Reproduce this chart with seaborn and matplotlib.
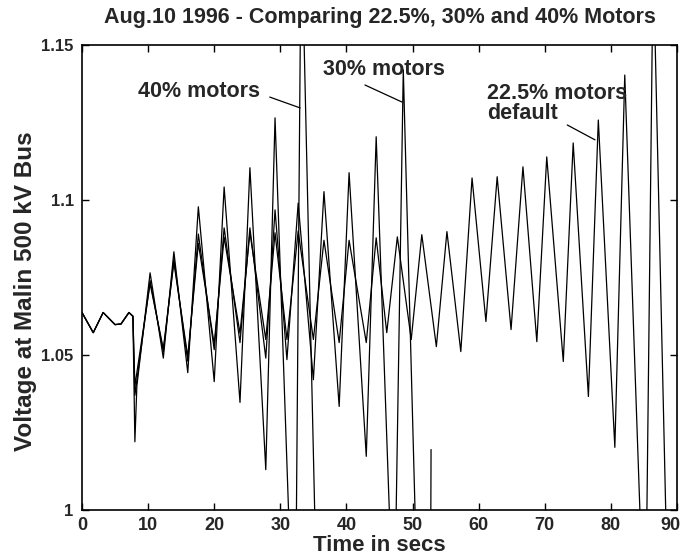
import numpy as np
import pandas as pd
import seaborn as sns
import matplotlib.pyplot as plt
import matplotlib.transforms as mtransforms
from matplotlib.ticker import FixedLocator, FormatStrFormatter

"""
Aug.10 1996 - voltage at Malin 500 kV bus for three motor load shares
"""

# pre-fault swing, same for every case
t_pre = [0.0, 1.7, 3.2, 5.0, 5.9, 7.1, 7.7]
v_pre = [1.0637, 1.0572, 1.0637, 1.0598, 1.0600, 1.0637, 1.0625]

# 22.5% motors (default)
t_225 = [8.0, 10.3, 12.3, 13.9, 16.0, 17.6, 20.0, 21.5, 23.9, 25.4, 27.8, 29.2,
         31.0, 32.7, 35.0, 36.6, 38.9, 40.4, 43.0, 44.5, 46.1, 47.7, 49.8, 51.4,
         53.6, 55.2, 57.3, 59.0, 61.1, 62.8, 64.9, 66.7, 68.8, 70.3, 72.8, 74.3,
         76.6, 78.1, 80.6, 82.1, 84.55, 85.4, 86.3, 86.6, 88.4]
v_225 = [1.040, 1.073, 1.052, 1.0798, 1.0495, 1.086, 1.0535, 1.088, 1.057, 1.0895,
         1.055, 1.0894, 1.055, 1.090, 1.055, 1.087, 1.054, 1.087, 1.054, 1.0878,
         1.0572, 1.0881, 1.055, 1.0888, 1.0527, 1.0898, 1.0511, 1.1071, 1.0608,
         1.1075, 1.0582, 1.1107, 1.0543, 1.1139, 1.0479, 1.1184, 1.0366, 1.1258,
         1.0202, 1.1403, 0.99, 0.99, 1.16, 1.16, 0.99]

# 30% motors
t_30 = [8.0, 10.3, 12.3, 13.9, 16.0, 17.6, 20.0, 21.5, 23.9, 25.4, 27.8, 29.2,
        31.0, 32.7, 35.0, 36.6, 38.9, 40.4, 43.0, 44.5, 46.65, 47.45, 48.6,
        50.5, 52.75, 52.8]
v_30 = [1.037, 1.074, 1.051, 1.081, 1.048, 1.089, 1.0517, 1.091, 1.054, 1.091,
        1.049, 1.0968, 1.0485, 1.099, 1.042, 1.1027, 1.0334, 1.1088, 1.0173,
        1.1204, 0.99, 0.99, 1.142, 0.99, 0.99, 1.0195]

# 40% motors
t_40 = [8.0, 8.3, 10.3, 12.3, 13.9, 16.0, 17.6, 20.0, 21.5, 23.9, 25.4, 27.8,
        29.2, 31.4, 32.4, 33.05, 33.5, 35.3]
v_40 = [1.022, 1.040, 1.0765, 1.049, 1.0833, 1.0443, 1.0978, 1.0414, 1.1042,
        1.0347, 1.1104, 1.013, 1.1265, 0.99, 0.99, 1.16, 1.16, 0.99]

x_ticks = [0, 10, 20, 30, 40, 50, 60, 70, 80, 90]
y_ticks = [1.0, 1.05, 1.1, 1.15]

cases = {'22.5%': (t_225, v_225), '30%': (t_30, v_30), '40%': (t_40, v_40)}
frames = []
for name, (t, v) in cases.items():
    frames.append(pd.DataFrame({'time': t_pre + t, 'volt': v_pre + v, 'case': name}))
df = pd.concat(frames, ignore_index=True)

sns.set_style("ticks")
plt.rcParams['font.family'] = ['Liberation Sans', 'DejaVu Sans']
plt.rcParams['font.weight'] = 'bold'

fig = plt.figure(figsize=(6.85, 5.59), dpi=100)
ax = fig.add_axes([0.1197, 0.0877, 0.8686, 0.8318])

for name in cases:
    sns.lineplot(data=df[df['case'] == name], x='time', y='volt', color='black',
                 lw=0.9, sort=False, estimator=None, ax=ax, legend=False)

ax.set_xlim(0, 90)
ax.set_ylim(1.0, 1.15)
ax.xaxis.set_major_locator(FixedLocator(x_ticks))
ax.yaxis.set_major_locator(FixedLocator(y_ticks))
ax.yaxis.set_major_formatter(FormatStrFormatter('%g'))
ax.tick_params(direction='in', top=True, right=True, length=5, width=1, color='black')
ax.tick_params(axis='x', labelsize=13, pad=5)
ax.tick_params(axis='y', labelsize=12, pad=6)
for lab in ax.get_xticklabels() + ax.get_yticklabels():
    lab.set_fontweight('bold')
# last x label sits right at the figure edge, nudge it in a little
last = ax.get_xticklabels()[-1]
last.set_transform(last.get_transform() +
                   mtransforms.ScaledTranslation(-5 / 72, 0, fig.dpi_scale_trans))
for sp in ax.spines.values():
    sp.set_linewidth(1.2)
    sp.set_color('black')

ax.set_title("Aug.10 1996 - Comparing 22.5%, 30% and 40% Motors",
             fontsize=15.5, fontweight='bold', pad=16)
ax.set_xlabel("Time in secs", fontsize=16, fontweight='bold', labelpad=1)
ax.set_ylabel("Voltage at Malin 500 kV Bus", fontsize=17.5, fontweight='bold')
ax.yaxis.set_label_coords(-0.075, 0.47)

line = dict(arrowstyle='-', color='black', lw=0.9, shrinkA=0, shrinkB=0)
ax.text(8.5, 1.1349, "40% motors", fontsize=15.5, fontweight='bold', va='center')
ax.annotate("", xy=(33.0, 1.1297), xytext=(28.4, 1.1332), arrowprops=line)
ax.text(36.5, 1.142, "30% motors", fontsize=15.5, fontweight='bold', va='center')
ax.annotate("", xy=(48.4, 1.1316), xytext=(42.8, 1.1371), arrowprops=line)
ax.text(61.3, 1.131, "22.5% motors\ndefault", fontsize=15.5, fontweight='bold',
        va='center', linespacing=0.95)
ax.annotate("", xy=(77.6, 1.1194), xytext=(73.4, 1.1242), arrowprops=line)

plt.savefig('out.png', dpi=100)
